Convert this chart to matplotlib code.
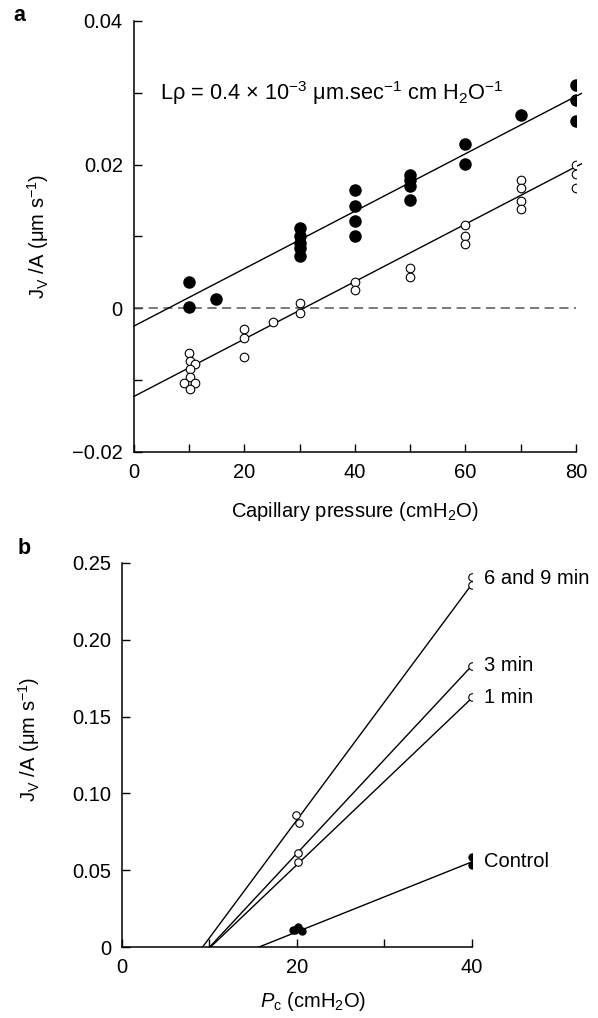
import numpy as np
import matplotlib
matplotlib.use('Agg')
import matplotlib.pyplot as plt

plt.rcParams['font.family'] = ['Liberation Sans', 'DejaVu Sans']
plt.rcParams['mathtext.fontset'] = 'custom'
plt.rcParams['mathtext.rm'] = 'Liberation Sans'
plt.rcParams['mathtext.it'] = 'Liberation Sans:italic'
plt.rcParams['mathtext.bf'] = 'Liberation Sans:bold'
plt.rcParams['axes.unicode_minus'] = True

FS = 14.5

# ---- panel a data ----
a_filled_x = [10, 10, 14.8, 30, 30, 30, 30, 30, 40, 40, 40, 40,
              50, 50, 50, 50, 60, 60, 70, 80, 80, 80]
a_filled_y = [0.0036, 0.0001, 0.0013, 0.0111, 0.0100, 0.0091, 0.0084, 0.0073,
              0.0165, 0.0142, 0.0121, 0.0100, 0.0186, 0.0178, 0.0170, 0.0151,
              0.0228, 0.0201, 0.0269, 0.0311, 0.0290, 0.0260]
a_open_x = [9.9, 10.1, 11.1, 10.2, 10.2, 9.1, 11.1, 10.2, 20, 20, 20, 25.2,
            30, 30, 40, 40, 50, 50, 60, 60, 60, 70, 70, 70, 70, 80, 80, 80]
a_open_y = [-0.0062, -0.0074, -0.0078, -0.0085, -0.0096, -0.0105, -0.0105, -0.0112,
            -0.0029, -0.0042, -0.0068, -0.0020, 0.0007, -0.0007, 0.0037, 0.0025,
            0.0056, 0.0044, 0.0116, 0.0101, 0.0089, 0.0179, 0.0168, 0.0149, 0.0138,
            0.0200, 0.0187, 0.0167]
a_fit_intercepts = [-0.0025, -0.0123]
a_fit_slope = 0.0004
a_fit_range = [0, 81]

# ---- panel b data ----
b_series = ['6 and 9 min', '3 min', '1 min', 'Control']
b_filled = [False, False, False, True]
b_x = [[19.9, 20.2, 40, 40],
       [20.1, 40],
       [20.1, 40],
       [19.5, 19.8, 20.1, 20.6, 40, 40]]
b_y = [[0.0858, 0.0808, 0.2405, 0.2355],
       [0.0612, 0.1830],
       [0.0552, 0.1625],
       [0.0112, 0.0115, 0.0133, 0.0108, 0.0588, 0.0535]]
b_line_x0 = [9.2, 10.0, 10.1, 15.6]     # where each fit crosses zero
b_line_end = [0.236, 0.183, 0.162, 0.0555]
b_label_y = [0.2395, 0.1835, 0.1625, 0.056]


def style_axes(ax):
    for s in ['top', 'right']:
        ax.spines[s].set_visible(False)
    for s in ['left', 'bottom']:
        ax.spines[s].set_linewidth(1.1)
    ax.tick_params(direction='in', length=6, width=1.0, labelsize=FS, pad=8)


fig = plt.figure(figsize=(5.98, 10.18), dpi=100)

# ---------------- panel a ----------------
ax = fig.add_axes([0.224, 0.5563, 0.739, 0.4231])
style_axes(ax)
ax.axhline(0, xmin=0, xmax=1, color='#555555', lw=1.1, dashes=(6, 3.6))
xs = np.array(a_fit_range)
for b0 in a_fit_intercepts:
    ax.plot(xs, b0 + a_fit_slope * xs, color='black', lw=1.0, clip_on=False)
ax.plot(a_open_x, a_open_y, 'o', ms=6.2, mfc='white', mec='black', mew=0.8)
ax.plot(a_filled_x, a_filled_y, 'o', ms=8.0, mfc='black', mec='black')
ax.set_xlim(0, 80)
ax.set_ylim(-0.02, 0.04)
ax.set_xticks(np.arange(0, 81, 10))
ax.set_xticklabels([str(v) if v % 20 == 0 else '' for v in range(0, 81, 10)])
ax.set_yticks([-0.02, -0.01, 0, 0.01, 0.02, 0.03, 0.04])
ax.set_yticklabels(['\u22120.02', '', '0', '', '0.02', '', '0.04'])
ax.text(4.7, 0.03, 'L\u03c1 = 0.4 \u00d7 10$^{-3}$ \u03bcm.sec$^{-1}$ cm H$_2$O$^{-1}$',
        fontsize=FS + 1.2, va='center', ha='left')
ax.set_xlabel('Capillary pressure (cmH$_2$O)', fontsize=FS)
ax.set_ylabel('J$_\\mathrm{V}$ /A (\u03bcm s$^{-1}$)', fontsize=FS)
ax.xaxis.set_label_coords(0.5, -0.112)
ax.yaxis.set_label_coords(-0.188, 0.5)

# ---------------- panel b ----------------
bx = fig.add_axes([0.204, 0.0695, 0.585, 0.3777])
style_axes(bx)
for i, name in enumerate(b_series):
    bx.plot([b_line_x0[i], 40], [0, b_line_end[i]], color='black', lw=1.0)
    if b_filled[i]:
        bx.plot(b_x[i], b_y[i], 'o', ms=5.0, mfc='black', mec='black')
    else:
        bx.plot(b_x[i], b_y[i], 'o', ms=5.4, mfc='white', mec='black', mew=0.8)
    bx.text(41.4, b_label_y[i], name, fontsize=FS, va='center', ha='left')
bx.set_xlim(0, 40)
bx.set_ylim(0, 0.25)
bx.set_xticks([0, 10, 20, 30, 40])
bx.set_xticklabels(['0', '', '20', '', '40'])
bx.set_yticks([0, 0.05, 0.10, 0.15, 0.20, 0.25])
bx.set_yticklabels(['0', '0.05', '0.10', '0.15', '0.20', '0.25'])
bx.set_xlabel('$P_\\mathrm{c}$ (cmH$_2$O)', fontsize=FS)
bx.set_ylabel('J$_\\mathrm{V}$ /A (\u03bcm s$^{-1}$)', fontsize=FS)
bx.xaxis.set_label_coords(0.545, -0.112)
bx.yaxis.set_label_coords(-0.229, 0.54)

fig.text(0.022, 0.985, 'a', fontsize=FS + 1, fontweight='bold', va='center', ha='left')
fig.text(0.030, 0.461, 'b', fontsize=FS + 1, fontweight='bold', va='center', ha='left')

fig.savefig('out.png', dpi=100)
